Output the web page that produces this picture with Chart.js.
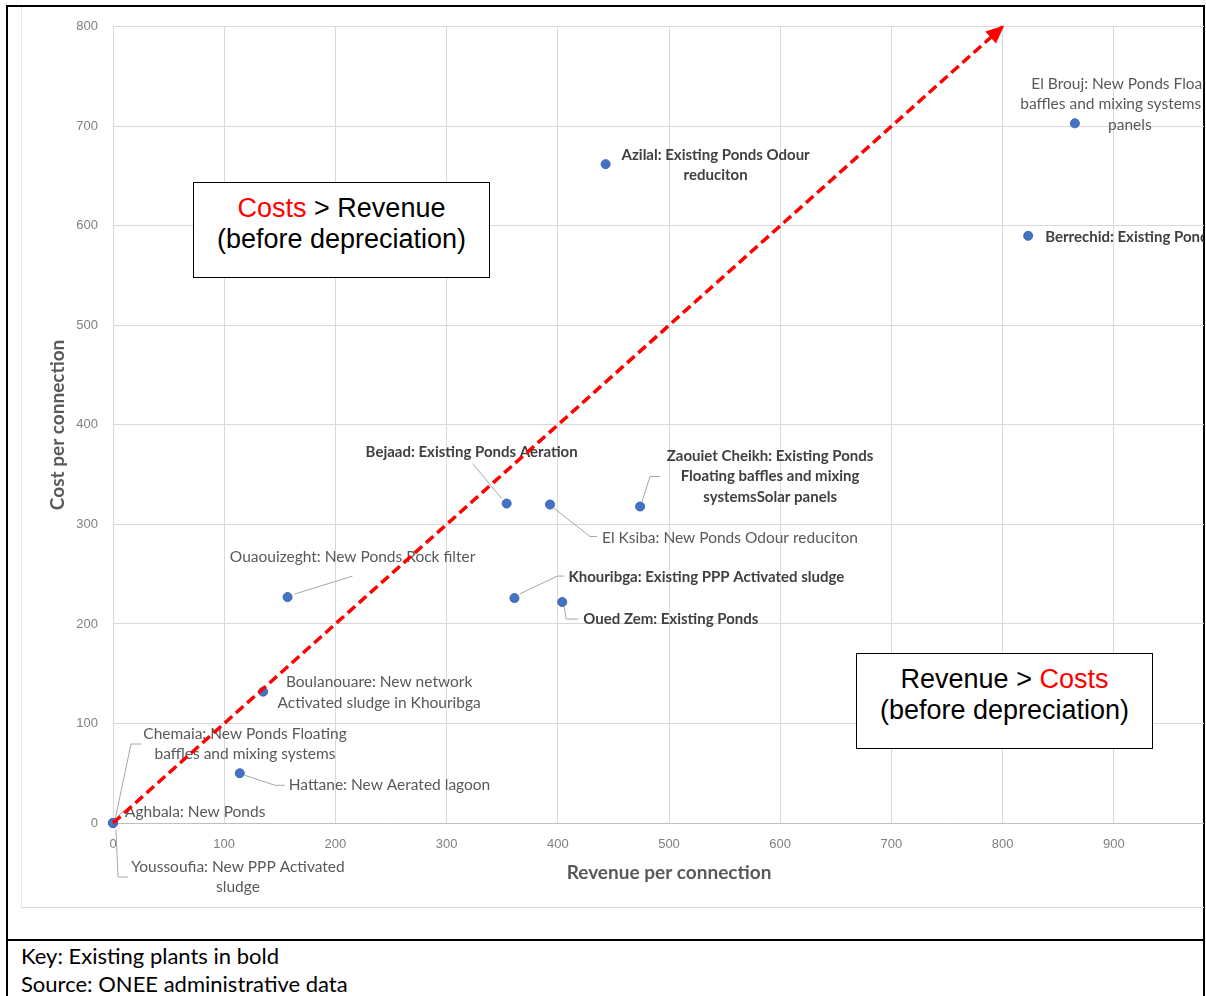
<!DOCTYPE html>
<html>
<head>
<meta charset="utf-8">
<script src="https://cdn.jsdelivr.net/npm/chart.js@4.4.1/dist/chart.umd.min.js"></script>
<style>
  html, body { margin: 0; padding: 0; background: #fff; width: 1206px; height: 996px; overflow: hidden; }
  #frame { position: absolute; left: 6px; top: 5px; width: 1195px; height: 1000px; border: 2px solid #000; }
  #divider { position: absolute; left: 6px; top: 939px; width: 1199px; height: 2px; background: #000; }
  #plot { position: absolute; left: 21px; top: 7px; width: 1182px; height: 900px; overflow: hidden;
          border-left: 1px dotted #cfcfcf; border-bottom: 1px solid #d9d9d9; }
  #plot canvas { position: absolute; left: 0; top: -3px; }
  .note { position: absolute; box-sizing: border-box; width: 297px; height: 96px; background: #fff;
          border: 1px solid #000; font: 27px "Liberation Sans", Arial, sans-serif; color: #000;
          text-align: center; line-height: 31px; padding-top: 10px; }
  .note .red { color: #ff0000; }
  #key { position: absolute; left: 21px; top: 942px; font: 22px Lato, "Open Sans", sans-serif; color: #000; line-height: 28px; }
</style>
</head>
<body>
<div id="frame"></div>
<div id="plot"><canvas id="chart" width="1240" height="903"></canvas></div>
<div id="divider"></div>
<div class="note" style="left:193px; top:182px;"><span class="red">Costs</span> &gt; Revenue<br>(before depreciation)</div>
<div class="note" style="left:856px; top:653px;">Revenue &gt; <span class="red">Costs</span><br>(before depreciation)</div>
<div id="key">Key: Existing plants in bold<br>Source: ONEE administrative data</div>

<script>
// plants
const plantNames = ['Azilal', 'El Brouj', 'Berrechid', 'Bejaad', 'El Ksiba', 'Zaouiet Cheikh',
  'Ouaouizeght', 'Khouribga', 'Oued Zem', 'Boulanouare', 'Hattane', 'Chemaia', 'Aghbala', 'Youssoufia']
const revenuePerConnection = [443, 865, 823, 354, 393, 474, 157, 361, 404, 135, 114, 0, 0, 0]
const costPerConnection = [662, 703, 590, 321, 320, 318, 227, 226, 222, 132, 50, 0, 0, 0]
const existingPlant = [true, false, true, true, false, true, false, true, true, false, false, false, false, false]
const plantLabels = [
  ['Azilal: Existing Ponds Odour', 'reduciton'],
  ['El Brouj: New Ponds Floating', 'baffles and mixing systems Solar', 'panels'],
  ['Berrechid: Existing Ponds Aeration'],
  ['Bejaad: Existing Ponds Aeration'],
  ['El Ksiba: New Ponds Odour reduciton'],
  ['Zaouiet Cheikh: Existing Ponds', 'Floating baffles and mixing', 'systemsSolar panels'],
  ['Ouaouizeght: New Ponds Rock filter'],
  ['Khouribga: Existing PPP Activated sludge'],
  ['Oued Zem: Existing Ponds'],
  ['Boulanouare: New network', 'Activated sludge in Khouribga'],
  ['Hattane: New Aerated lagoon'],
  ['Chemaia: New Ponds Floating', 'baffles and mixing systems'],
  ['Aghbala: New Ponds'],
  ['Youssoufia: New PPP Activated', 'sludge']
]

// break-even arrow
const arrowRevenue = [0, 800]
const arrowCost = [0, 800]

// label placement relative to the point, in pixels (style only)
const labelPlacement = [
  { dx: 110, dy: 1, align: 'center' },
  { dx: 55, dy: -19, align: 'center' },
  { dx: 17, dy: 1, align: 'left' },
  { dx: -35, dy: -51, align: 'center', leader: [[-34, -40], [-5, -5]] },
  { dx: 52, dy: 33, align: 'left', leader: [[3, 3], [40, 32], [47, 32]] },
  { dx: 130, dy: -30, align: 'center', leader: [[2, -5], [10, -30], [20, -30]] },
  { dx: 65, dy: -40, align: 'center', leader: [[7, -3], [65, -21]] },
  { dx: 54, dy: -21, align: 'left', leader: [[5, -4], [43, -22], [50, -22]] },
  { dx: 21, dy: 17, align: 'left', leader: [[2, 5], [4, 17], [16, 17]] },
  { dx: 116, dy: 1, align: 'center' },
  { dx: 49, dy: 12, align: 'left', leader: [[5, 2], [35, 12], [45, 12]] },
  { dx: 132, dy: -79, align: 'center', leader: [[2, -3], [18, -79], [28, -79]] },
  { dx: 12, dy: -11, align: 'left', leader: [[2, -3], [9, -11], [11, -11]] },
  { dx: 125, dy: 54, align: 'center', leader: [[3, 7], [5, 54], [15, 54]] }
]

const pointLabels = {
  id: 'pointLabels',
  beforeDatasetDraw(chart, args) {
    if (args.index !== 0) return
    const ctx = chart.ctx
    const meta = chart.getDatasetMeta(1)
    ctx.save()
    meta.data.forEach((pt, i) => {
      const place = labelPlacement[i]
      if (place.leader) {
        ctx.beginPath()
        ctx.strokeStyle = '#a6a6a6'
        ctx.lineWidth = 1
        place.leader.forEach(([lx, ly], k) => {
          if (k === 0) ctx.moveTo(pt.x + lx, pt.y + ly)
          else ctx.lineTo(pt.x + lx, pt.y + ly)
        })
        ctx.stroke()
      }
      const lines = plantLabels[i]
      const bold = existingPlant[i]
      ctx.font = bold ? 'bold 15px Lato' : '15.5px Lato'
      ctx.fillStyle = bold ? '#404040' : '#595959'
      ctx.textAlign = place.align
      ctx.textBaseline = 'middle'
      const lh = 20.5
      const y0 = pt.y + place.dy - (lines.length - 1) * lh / 2
      lines.forEach((t, k) => ctx.fillText(t, pt.x + place.dx, y0 + k * lh))
    })
    ctx.restore()
  },
  afterDatasetDraw(chart, args) {
    if (args.index !== 0) return
    const ctx = chart.ctx
    const pts = chart.getDatasetMeta(0).data
    const a = pts[0], b = pts[pts.length - 1]
    const ang = Math.atan2(b.y - a.y, b.x - a.x)
    ctx.save()
    ctx.translate(b.x, b.y)
    ctx.rotate(ang)
    ctx.fillStyle = '#ff0000'
    ctx.beginPath()
    ctx.moveTo(2, 0)
    ctx.lineTo(-16, -8)
    ctx.lineTo(-16, 8)
    ctx.closePath()
    ctx.fill()
    ctx.restore()
  }
}

const tickFont = { family: '"Liberation Sans", Arial, sans-serif', size: 13 }
const titleFont = { family: 'Lato, sans-serif', size: 19, weight: 'bold' }

new Chart(document.getElementById('chart'), {
  type: 'scatter',
  data: {
    datasets: [
      {
        label: 'Break-even',
        data: arrowRevenue.map((x, i) => ({ x, y: arrowCost[i] })),
        showLine: true,
        borderColor: '#ff0000',
        borderWidth: 3.5,
        borderDash: [10, 5],
        pointRadius: 0,
        clip: false
      },
      {
        label: 'Plants',
        data: revenuePerConnection.map((x, i) => ({ x, y: costPerConnection[i], name: plantNames[i] })),
        pointRadius: 4.5,
        backgroundColor: '#4472c4',
        borderColor: '#3d66b0',
        borderWidth: 1,
        clip: false
      }
    ]
  },
  options: {
    responsive: false,
    animation: false,
    layout: { autoPadding: false, padding: { left: 0, top: 19, right: 37, bottom: 0 } },
    plugins: {
      legend: { display: false },
      tooltip: { enabled: false }
    },
    scales: {
      x: {
        type: 'linear',
        min: 0,
        max: 1000,
        afterFit: (scale) => { scale.height = 84 },
        ticks: { stepSize: 100, padding: 14, color: '#7f7f7f', font: tickFont, maxRotation: 0 },
        grid: { color: '#d9d9d9', drawTicks: false },
        border: { color: '#bfbfbf' },
        title: { display: true, text: 'Revenue per connection', color: '#595959', font: titleFont, padding: { top: 0, bottom: 22.5 } }
      },
      y: {
        type: 'linear',
        min: 0,
        max: 800,
        afterFit: (scale) => { scale.width = 91 },
        ticks: { stepSize: 100, padding: 15, color: '#7f7f7f', font: tickFont },
        grid: { color: '#d9d9d9', drawTicks: false },
        border: { color: '#d9d9d9' },
        title: { display: true, text: 'Cost per connection', color: '#595959', font: titleFont, padding: { top: 24.5, bottom: 0 } }
      }
    }
  },
  plugins: [pointLabels]
})
</script>
</body>
</html>
